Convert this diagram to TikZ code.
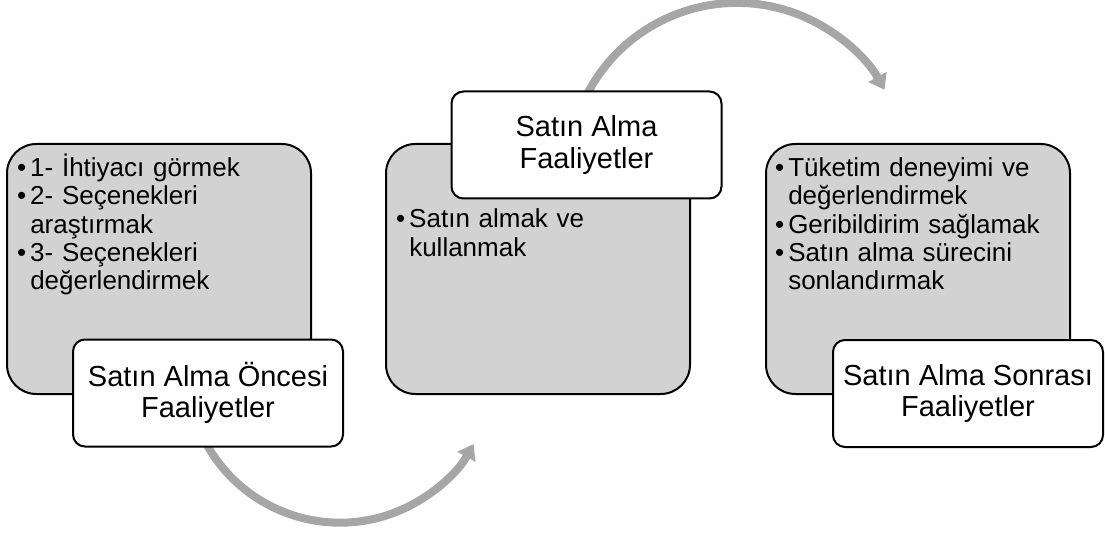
\documentclass[tikz,border=0pt]{standalone}
\usepackage{fontspec}
\setmainfont{Liberation Sans}
\usetikzlibrary{arrows.meta}
\definecolor{boxgrey}{RGB}{210,210,210}
\definecolor{arrowgrey}{RGB}{166,166,166}
\newcommand\itembul{\leavevmode\llap{•\hspace{3pt}}}
\begin{document}
\begin{tikzpicture}[x=0.75pt,y=-0.75pt,
  panel/.style={draw=black, line width=1.5pt, fill=boxgrey, rounded corners=22pt,
    minimum width=228pt, minimum height=187.5pt, anchor=north west, inner sep=0pt},
  tagbox/.style={draw=black, line width=1.5pt, fill=white, rounded corners=9pt,
    minimum width=202.5pt, minimum height=80.25pt, inner sep=0pt, align=center,
    font=\fontsize{21.75}{23.5}\selectfont},
  items/.style={anchor=base west, inner sep=0pt, text width=200pt, align=left,
    font=\fontsize{19.5}{21.2}\selectfont},
  cyc/.style={draw=arrowgrey, line width=6pt, -{Triangle[width=15pt,length=11pt]}}
]
\useasboundingbox (0,0) rectangle (1105,534);
% arcs
\coordinate (c1) at (340,370);
\coordinate (c2) at (737,171.6);
\draw[cyc] ([shift={(205:114.5pt)}]c1) arc[start angle=205, end angle=331, radius=114.5pt];
\draw[cyc] ([shift={(155:126.5pt)}]c2) arc[start angle=155, end angle=29, radius=126.5pt];
% panels
\node[panel] (p1) at (6,143) {};
\node[panel] (p2) at (385,143) {};
\node[panel] (p3) at (765,143) {};
% bullet texts
\node[items] (t1) at (30,176.7) {\itembul 1- İhtiyacı görmek\\ \itembul 2- Seçenekleri\\ araştırmak\\ \itembul 3- Seçenekleri\\ değerlendirmek};
\node[items] (t2) at (409,228) {\itembul Satın almak ve\\ kullanmak};
\node[items] (t3) at (788,176.7) {\itembul Tüketim deneyimi ve\\ değerlendirmek\\ \itembul Geribildirim sağlamak\\ \itembul Satın alma sürecini\\ sonlandırmak};
% labels
\node[tagbox] (l1) at (208,393) {Satın Alma Öncesi\\Faaliyetler};
\node[tagbox] (l2) at (586.5,145) {Satın Alma\\Faaliyetler};
\node[tagbox] (l3) at (968,393.5) {Satın Alma Sonrası\\Faaliyetler};
\end{tikzpicture}
\end{document}
